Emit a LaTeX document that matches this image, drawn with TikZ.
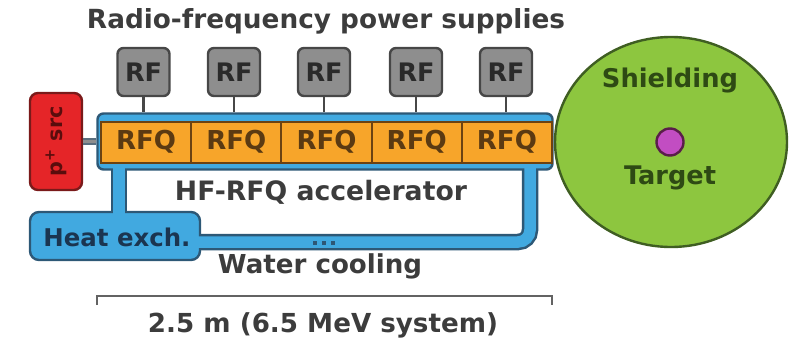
\documentclass[tikz,border=0pt]{standalone}
\usepackage{fontspec}
\setmainfont{DejaVu Sans}
\usepackage{graphicx}
\usetikzlibrary{shapes.geometric}
\definecolor{rfgray}{HTML}{8E8E8E}
\definecolor{rfborder}{HTML}{474747}
\definecolor{rftext}{HTML}{2A2A2A}
\definecolor{accblue}{HTML}{41A9E0}
\definecolor{blueborder}{HTML}{2D5876}
\definecolor{rfqorange}{HTML}{F7A52A}
\definecolor{rfqborder}{HTML}{6B4212}
\definecolor{rfqtext}{HTML}{5B3A12}
\definecolor{srcred}{HTML}{E52528}
\definecolor{srcborder}{HTML}{7A1A1A}
\definecolor{srctext}{HTML}{5A0D0D}
\definecolor{shieldgreen}{HTML}{8DC63F}
\definecolor{greenborder}{HTML}{3F5E22}
\definecolor{greentext}{HTML}{2E4A14}
\definecolor{targetmag}{HTML}{C24DC2}
\definecolor{magborder}{HTML}{5A1E4A}
\definecolor{labelgray}{HTML}{3C3C3C}
\definecolor{hxtext}{HTML}{1B3550}
\definecolor{beamgray}{HTML}{5A6E7E}
\newcommand{\fitw}[2]{\resizebox{#1}{!}{\bfseries #2}}
\begin{document}
\begin{tikzpicture}[x=1pt,y=-1pt,
  lbl/.style={text=labelgray, inner sep=0pt},
  rfbox/.style={draw=rfborder, fill=rfgray, line width=2.4pt, rounded corners=6pt,
    minimum width=52pt, minimum height=48pt, inner sep=0pt, text=rftext},
  rfline/.style={draw=rfborder, line width=2.2pt},
  accbox/.style={draw=blueborder, fill=accblue, line width=2.4pt, rounded corners=6pt,
    minimum width=455pt, minimum height=56pt, inner sep=0pt},
  rfqbox/.style={draw=rfqborder, fill=rfqorange, line width=2pt,
    minimum width=90.2pt, minimum height=41pt, inner sep=0pt, text=rfqtext},
  srcbox/.style={draw=srcborder, fill=srcred, line width=2.4pt, rounded corners=8pt,
    minimum width=52pt, minimum height=97pt, inner sep=0pt},
  hxbox/.style={draw=blueborder, fill=accblue, line width=2.4pt, rounded corners=9pt,
    minimum width=170pt, minimum height=48pt, inner sep=0pt},
  pipeout/.style={draw=blueborder, line width=16.5pt, rounded corners=12pt},
  pipein/.style={draw=accblue, line width=11.5pt, rounded corners=12pt},
  beam/.style={draw=beamgray, line width=2.2pt, double=rfgray, double distance=2.5pt},
  dotbox/.style={fill=blueborder, minimum size=4.5pt, inner sep=0pt},
  bracket/.style={draw=labelgray!80, line width=2.2pt}
]
\useasboundingbox (0,0) rectangle (794,343);

% title
\node[lbl] (title) at (326,21) {\fitw{478pt}{Radio-frequency power supplies}};

% pipe coordinates
\coordinate (pa) at (119,166);
\coordinate (pahx) at (119,220);
\coordinate (pb) at (530,166);
\coordinate (pbend) at (530,242);
\coordinate (pbhx) at (196,242);

% pipe outlines
\draw[pipeout] (pa) -- (pahx);
\draw[pipeout] (pb) -- (pbend) -- (pbhx);

% accelerator body and heat exchanger
\node[accbox] (acc) at (325,141.5) {};
\node[hxbox] (hx) at (115,236) {};

% pipe interiors
\draw[pipein] (pa) -- (pahx);
\draw[pipein] (pb) -- (pbend) -- (pbhx);

% pump dots
\node[dotbox] (dot1) at (315,243) {};
\node[dotbox] (dot2) at (324,243) {};
\node[dotbox] (dot3) at (333,243) {};

% RFQ cavities
\foreach \i/\x in {1/146.1,2/236.3,3/326.5,4/416.7,5/506.9}{
  \node[rfqbox] (rfq\i) at (\x,142) {\fitw{60pt}{RFQ}};
}

% RF supplies
\foreach \i/\x in {1/143.5,2/234,3/324,4/416,5/506}{
  \node[rfbox] (rf\i) at (\x,72) {\fitw{37pt}{RF}};
  \draw[rfline] (rf\i.south) -- (rf\i.south |- acc.north);
}

% proton source
\node[srcbox] (src) at (56,141.5) {};
\node[rotate=90, text=srctext, inner sep=0pt] (srclbl) at (src.center) {\fitw{70pt}{p\textsuperscript{+} src}};
\draw[beam] (src.east) -- (acc.west);

% heat exchanger label
\node[text=hxtext, inner sep=0pt] (hxlbl) at (117,237) {\fitw{147pt}{Heat exch.}};

% shielding
\node[ellipse, draw=greenborder, fill=shieldgreen, line width=2.4pt,
  minimum width=232pt, minimum height=210pt, inner sep=0pt] (shield) at (671,142) {};
\node[circle, draw=magborder, fill=targetmag, line width=2.4pt,
  minimum size=27pt, inner sep=0pt] (target) at (670,142) {};
\node[text=greentext, inner sep=0pt] (shieldlbl) at (670,80) {\fitw{136pt}{Shielding}};
\node[text=greentext, inner sep=0pt] (targetlbl) at (670,178) {\fitw{92pt}{Target}};

% labels
\node[lbl] (acclbl) at (321,192) {\fitw{292pt}{HF-RFQ accelerator}};
\node[lbl] (waterlbl) at (320,266) {\fitw{204pt}{Water cooling}};

% bracket
\coordinate (bl) at (97,296);
\coordinate (br) at (552,296);
\draw[bracket] ([yshift=-9pt]bl) -- (bl) -- (br) -- ([yshift=-9pt]br);
\node[lbl] (lenlbl) at (323,325) {\fitw{350pt}{2.5 m (6.5 MeV system)}};
\end{tikzpicture}
\end{document}
